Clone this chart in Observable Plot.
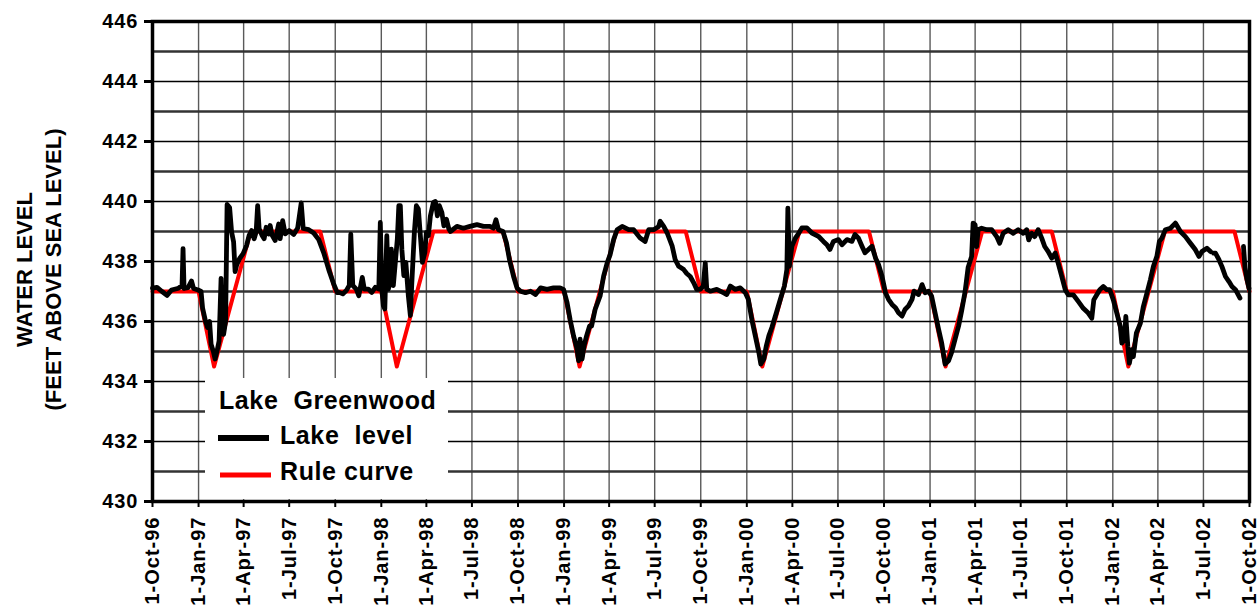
<!DOCTYPE html>
<html>
<head>
<meta charset="utf-8">
<script src="https://cdn.jsdelivr.net/npm/d3@7"></script>
<script src="https://cdn.jsdelivr.net/npm/@observablehq/plot@0.6"></script>
<style>
  html, body { margin: 0; padding: 0; background: #fff; }
  svg text { font-family: "Liberation Sans", Arial, sans-serif; font-weight: bold; }
</style>
</head>
<body>
<script>
// Lake Greenwood daily lake level (ft above sea level), sampled
const levelDates = [
  "1996-10-01","1996-10-10","1996-10-20","1996-10-30","1996-11-08","1996-11-22","1996-11-29","1996-12-01","1996-12-03","1996-12-11",
  "1996-12-18","1996-12-22","1996-12-31","1997-01-06","1997-01-09","1997-01-15","1997-01-19","1997-01-23","1997-01-26","1997-01-31",
  "1997-02-03","1997-02-07","1997-02-11","1997-02-15","1997-02-17","1997-02-20","1997-02-24","1997-02-27","1997-03-04","1997-03-08",
  "1997-03-12","1997-03-15","1997-03-18","1997-03-24","1997-03-31","1997-04-07","1997-04-12","1997-04-17","1997-04-22","1997-04-26",
  "1997-04-29","1997-05-02","1997-05-08","1997-05-12","1997-05-16","1997-05-21","1997-05-24","1997-05-28","1997-06-03","1997-06-10",
  "1997-06-13","1997-06-18","1997-06-23","1997-07-01","1997-07-10","1997-07-18","1997-07-25","1997-07-29","1997-08-09","1997-08-19",
  "1997-08-29","1997-09-08","1997-09-18","1997-09-27","1997-10-05","1997-10-09","1997-10-16","1997-10-23","1997-10-29","1997-11-01",
  "1997-11-05","1997-11-12","1997-11-17","1997-11-24","1997-11-28","1997-12-06","1997-12-13","1997-12-20","1997-12-27","1997-12-30",
  "1998-01-02","1998-01-05","1998-01-08","1998-01-12","1998-01-15","1998-01-18","1998-01-21","1998-01-25","1998-01-29","1998-02-02",
  "1998-02-05","1998-02-08","1998-02-11","1998-02-15","1998-02-19","1998-02-24","1998-02-28","1998-03-03","1998-03-08","1998-03-12",
  "1998-03-16","1998-03-20","1998-03-24","1998-03-29","1998-04-01","1998-04-05","1998-04-09","1998-04-15","1998-04-19","1998-04-23",
  "1998-04-27","1998-05-02","1998-05-06","1998-05-11","1998-05-16","1998-05-19","1998-06-01","1998-06-14","1998-06-27","1998-07-11",
  "1998-07-24","1998-08-06","1998-08-13","1998-08-18","1998-08-23","1998-09-01","1998-09-08","1998-09-14","1998-09-22","1998-09-29",
  "1998-10-06","1998-10-16","1998-10-26","1998-11-05","1998-11-15","1998-11-28","1998-12-11","1998-12-24","1998-12-31","1999-01-07",
  "1999-01-13","1999-01-20","1999-01-27","1999-01-30","1999-02-02","1999-02-06","1999-02-10","1999-02-15","1999-02-21","1999-02-25",
  "1999-03-04","1999-03-14","1999-03-21","1999-03-28","1999-04-03","1999-04-10","1999-04-17","1999-04-27","1999-05-10","1999-05-20",
  "1999-06-02","1999-06-12","1999-06-19","1999-06-29","1999-07-09","1999-07-12","1999-07-19","1999-07-26","1999-08-05","1999-08-11",
  "1999-08-18","1999-08-28","1999-09-03","1999-09-10","1999-09-17","1999-09-23","1999-09-30","1999-10-06","1999-10-10","1999-10-13",
  "1999-10-20","1999-11-02","1999-11-15","1999-11-22","1999-11-29","1999-12-09","1999-12-19","1999-12-29","2000-01-04","2000-01-11",
  "2000-01-18","2000-01-25","2000-01-29","2000-02-04","2000-02-09","2000-02-14","2000-02-20","2000-02-29","2000-03-08","2000-03-16",
  "2000-03-21","2000-03-23","2000-03-26","2000-03-31","2000-04-07","2000-04-14","2000-04-20","2000-04-30","2000-05-10","2000-05-23",
  "2000-06-02","2000-06-09","2000-06-15","2000-06-22","2000-07-02","2000-07-09","2000-07-19","2000-07-29","2000-08-04","2000-08-11",
  "2000-08-18","2000-08-24","2000-08-31","2000-09-07","2000-09-14","2000-09-20","2000-09-27","2000-10-04","2000-10-10","2000-10-17",
  "2000-10-24","2000-10-30","2000-11-06","2000-11-12","2000-11-19","2000-11-26","2000-11-30","2000-12-09","2000-12-16","2000-12-22",
  "2000-12-29","2001-01-04","2001-01-11","2001-01-18","2001-01-24","2001-01-31","2001-02-07","2001-02-13","2001-02-20","2001-02-27",
  "2001-03-05","2001-03-12","2001-03-18","2001-03-25","2001-03-28","2001-04-01","2001-04-04","2001-04-07","2001-04-14","2001-04-24",
  "2001-05-04","2001-05-14","2001-05-20","2001-05-27","2001-06-06","2001-06-16","2001-06-26","2001-07-06","2001-07-13","2001-07-17",
  "2001-07-23","2001-07-29","2001-08-05","2001-08-12","2001-08-18","2001-08-25","2001-09-01","2001-09-08","2001-09-14","2001-09-21",
  "2001-09-28","2001-10-04","2001-10-14","2001-10-24","2001-11-03","2001-11-13","2001-11-20","2001-11-24","2001-11-30","2001-12-06",
  "2001-12-13","2001-12-20","2001-12-26","2002-01-02","2002-01-09","2002-01-16","2002-01-19","2002-01-24","2002-01-27","2002-01-31",
  "2002-02-03","2002-02-08","2002-02-11","2002-02-17","2002-02-25","2002-03-03","2002-03-10","2002-03-17","2002-03-23","2002-03-30",
  "2002-04-04","2002-04-09","2002-04-16","2002-04-26","2002-05-06","2002-05-16","2002-05-26","2002-06-05","2002-06-15","2002-06-22",
  "2002-06-28","2002-07-08","2002-07-15","2002-07-18","2002-07-21","2002-07-25","2002-08-01","2002-08-07","2002-08-14","2002-08-21",
  "2002-08-27","2002-09-03","2002-09-12","2002-09-15","2002-09-19","2002-09-22","2002-09-26","2002-09-30"
];
const levelValues = [
  437.11,437.14,437.00,436.87,437.05,437.11,437.20,438.43,437.10,437.13,
  437.35,437.10,437.05,437.00,436.45,436.00,435.80,436.00,435.24,434.97,
  434.75,435.02,435.35,437.44,435.80,435.57,436.00,439.90,439.80,438.98,
  438.65,437.66,437.88,438.10,438.26,438.54,438.87,439.03,438.76,438.98,
  439.86,439.09,438.87,438.76,439.14,438.92,439.20,438.87,438.70,439.25,
  438.76,439.36,438.92,439.03,438.90,439.12,439.95,439.10,439.06,438.95,
  438.73,438.29,437.73,437.29,436.96,436.97,436.92,437.03,437.20,438.91,
  437.20,437.08,436.86,437.47,437.08,437.08,436.97,437.14,437.08,439.30,
  437.08,436.53,436.42,438.86,437.08,437.30,438.41,437.20,437.97,438.75,
  439.86,439.86,438.41,437.53,437.97,436.86,436.20,437.31,438.97,439.86,
  439.75,438.86,437.97,438.30,438.97,438.86,439.52,439.97,440.00,439.52,
  439.86,439.63,439.19,439.41,439.08,439.00,439.17,439.11,439.17,439.23,
  439.17,439.17,439.11,439.39,439.06,439.00,438.62,438.06,437.51,437.12,
  437.01,436.96,437.01,436.90,437.12,437.07,437.12,437.12,437.07,436.63,
  436.07,435.52,435.08,434.69,435.41,434.75,435.19,435.52,435.85,435.85,
  436.40,436.85,437.51,437.95,438.23,438.73,439.06,439.17,439.06,439.06,
  438.78,438.67,439.06,439.06,439.17,439.34,439.17,438.95,438.51,438.06,
  437.84,437.73,437.60,437.50,437.29,437.07,437.07,437.18,437.95,437.07,
  437.01,437.07,436.96,436.90,437.18,437.07,437.12,436.96,436.74,436.07,
  435.52,434.97,434.58,434.75,435.19,435.52,435.80,436.29,436.74,437.18,
  437.73,439.78,437.84,438.51,438.78,438.95,439.12,439.12,438.95,438.84,
  438.67,438.56,438.40,438.67,438.73,438.56,438.73,438.67,438.90,438.78,
  438.51,438.29,438.40,438.51,438.12,437.90,437.51,436.96,436.74,436.57,
  436.46,436.29,436.18,436.40,436.52,436.74,437.01,436.90,437.23,436.96,
  437.01,436.85,436.29,435.74,435.30,434.58,434.69,434.97,435.41,435.85,
  436.35,437.00,437.80,438.17,439.28,439.22,438.50,439.06,439.11,439.06,
  439.06,438.83,438.61,438.94,439.06,438.94,439.06,438.94,439.06,438.72,
  438.94,438.83,439.06,438.78,438.50,438.33,438.11,438.28,437.94,437.50,
  437.06,436.89,436.89,436.67,436.44,436.28,436.11,436.72,436.89,437.06,
  437.17,437.06,437.06,436.72,436.28,435.83,435.28,435.39,436.17,435.17,
  434.61,435.06,434.83,435.61,435.94,436.50,436.94,437.39,437.83,438.17,
  438.67,438.78,439.06,439.11,439.28,439.00,438.83,438.61,438.39,438.17,
  438.33,438.44,438.33,null,438.28,438.28,438.06,437.83,437.50,437.33,
  437.17,437.06,436.78,null,438.50,437.80,437.40,437.10
];

// Operating rule curve breakpoints (ft above sea level)
const ruleDates = [
  "1996-10-01",
  "1997-01-01","1997-02-01","1997-04-15","1997-09-01","1997-10-01",
  "1998-01-01","1998-02-01","1998-04-15","1998-09-01","1998-10-01",
  "1999-01-01","1999-02-01","1999-04-15","1999-09-01","1999-10-01",
  "2000-01-01","2000-02-01","2000-04-15","2000-09-01","2000-10-01",
  "2001-01-01","2001-02-01","2001-04-15","2001-09-01","2001-10-01",
  "2002-01-01","2002-02-01","2002-04-15","2002-09-01","2002-10-01"
];
const ruleValues = [
  437,
  437, 434.5, 439, 439, 437,
  437, 434.5, 439, 439, 437,
  437, 434.5, 439, 439, 437,
  437, 434.5, 439, 439, 437,
  437, 434.5, 439, 439, 437,
  437, 434.5, 439, 439, 437
];

// Axis ticks and grid
const yTicks = [430, 432, 434, 436, 438, 440, 442, 444, 446];
const yOddGrid = [431, 433, 435, 437, 439, 441, 443, 445];
const xTickDates = [
  "1996-10-01","1997-01-01","1997-04-01","1997-07-01","1997-10-01",
  "1998-01-01","1998-04-01","1998-07-01","1998-10-01",
  "1999-01-01","1999-04-01","1999-07-01","1999-10-01",
  "2000-01-01","2000-04-01","2000-07-01","2000-10-01",
  "2001-01-01","2001-04-01","2001-07-01","2001-10-01",
  "2002-01-01","2002-04-01","2002-07-01","2002-10-01"
];

const parse = d3.utcParse("%Y-%m-%d");
const fmt = d3.utcFormat("%-d-%b-%y");
const level = levelDates.map((d, i) => ({date: parse(d), value: levelValues[i] == null ? NaN : levelValues[i]}));
const rule = ruleDates.map((d, i) => ({date: parse(d), value: ruleValues[i]}));
const xTicks = xTickDates.map(parse);

const font = "'Liberation Sans', Arial, sans-serif";

const chart = Plot.plot({
  width: 1259,
  height: 609,
  marginLeft: 152,
  marginRight: 10,
  marginTop: 21,
  marginBottom: 108,
  style: {fontFamily: font, fontWeight: "bold", color: "black", background: "white", overflow: "visible"},
  x: {type: "utc", domain: [xTicks[0], xTicks[xTicks.length - 1]]},
  y: {domain: [430, 446]},
  marks: [
    Plot.ruleX(xTicks, {stroke: "#5a5a5a", strokeWidth: 1.4}),
    Plot.ruleY(yOddGrid, {stroke: "#333", strokeWidth: 2.4}),
    Plot.ruleY(yTicks, {stroke: "#000", strokeWidth: 1.6}),
    Plot.line(rule, {x: "date", y: "value", stroke: "#ff0000", strokeWidth: 4}),
    Plot.line(level, {x: "date", y: "value", stroke: "#000", strokeWidth: 4.8, strokeLinejoin: "round"}),
    Plot.axisY({ticks: yTicks, tickSize: 8, tickPadding: 6, fontSize: 20, strokeWidth: 3, label: null, tickFormat: d => d}),
    Plot.axisX({ticks: xTicks, tickSize: 6, tickPadding: 9, tickRotate: -90, fontSize: 20, strokeWidth: 2, label: null, tickFormat: fmt}),
    Plot.frame({stroke: "#000", strokeWidth: 3.5}),
    Plot.text(["WATER LEVEL"], {frameAnchor: "left", dx: -128, dy: 8, rotate: -90, textAnchor: "middle", fontSize: 22, fontWeight: "bold", fill: "#000"}),
    Plot.text(["(FEET ABOVE SEA LEVEL)"], {frameAnchor: "left", dx: -99, dy: 8, rotate: -90, textAnchor: "middle", fontSize: 22, fontWeight: "bold", fill: "#000"})
  ]
});

const svg = d3.select(chart);
svg.selectAll('g[aria-label="y-axis tick label"] text').style("letter-spacing", "1px");
svg.selectAll('g[aria-label="x-axis tick label"] text').style("letter-spacing", "1px");

// Legend box inside the plot area
const legend = svg.append("g")
  .attr("font-family", font).attr("font-weight", "bold").attr("fill", "#000").attr("text-anchor", "start");
legend.append("rect").attr("x", 205).attr("y", 378).attr("width", 243).attr("height", 121).attr("fill", "#fff");
legend.append("text").attr("x", 219).attr("y", 409).attr("font-size", 25).style("white-space", "pre").style("letter-spacing", "0.6px").text("Lake  Greenwood");
legend.append("line").attr("x1", 218).attr("x2", 269).attr("y1", 438).attr("y2", 438).attr("stroke", "#000").attr("stroke-width", 6);
legend.append("text").attr("x", 280).attr("y", 444).attr("font-size", 25).style("white-space", "pre").style("letter-spacing", "0.6px").text("Lake  level");
legend.append("line").attr("x1", 220).attr("x2", 271).attr("y1", 475).attr("y2", 475).attr("stroke", "#ff0000").attr("stroke-width", 5);
legend.append("text").attr("x", 280).attr("y", 480).attr("font-size", 25).style("letter-spacing", "0.6px").text("Rule curve");

document.body.appendChild(chart);
</script>
</body>
</html>
